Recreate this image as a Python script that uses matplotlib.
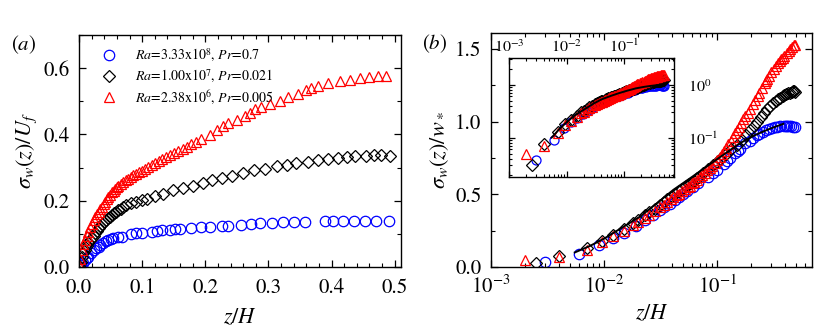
import numpy as np
import matplotlib
matplotlib.use('Agg')
import matplotlib.pyplot as plt
from matplotlib.ticker import MultipleLocator

plt.rcParams['font.family'] = ['STIXGeneral', 'DejaVu Serif']
plt.rcParams['mathtext.fontset'] = 'stix'

# ---- data ----
labels = [r'$Ra$=3.33x10$^{8}$, $Pr$=0.7',
          r'$Ra$=1.00x10$^{7}$, $Pr$=0.021',
          r'$Ra$=2.38x10$^{6}$, $Pr$=0.005']

# Ra=3.33e8, Pr=0.7 (blue circles)
z_blue = [0.000, 0.003, 0.006, 0.009, 0.012, 0.015, 0.019, 0.023, 0.027, 0.031,
          0.034, 0.038, 0.042, 0.046, 0.050, 0.054, 0.061, 0.068, 0.083, 0.091,
          0.099, 0.115, 0.123, 0.131, 0.144, 0.152, 0.160, 0.178, 0.194, 0.207,
          0.226, 0.236, 0.257, 0.272, 0.286, 0.306, 0.323, 0.340, 0.358, 0.389,
          0.403, 0.418, 0.435, 0.453, 0.471, 0.491]
sig_uf_blue = [0.000, 0.005, 0.012, 0.020, 0.026, 0.031, 0.042, 0.051, 0.056, 0.061,
               0.067, 0.073, 0.078, 0.082, 0.085, 0.087, 0.090, 0.092, 0.100, 0.102,
               0.104, 0.107, 0.109, 0.112, 0.112, 0.114, 0.115, 0.117, 0.120, 0.122,
               0.124, 0.124, 0.128, 0.130, 0.132, 0.134, 0.135, 0.136, 0.136, 0.139,
               0.138, 0.138, 0.139, 0.139, 0.138, 0.139]
sig_ws_blue = [None, 0.037, 0.090, 0.150, 0.200, 0.235, 0.280, 0.320, 0.355, 0.390,
               0.410, 0.435, 0.460, 0.480, 0.500, 0.520, 0.550, 0.575, 0.620, 0.645,
               0.670, 0.710, 0.730, 0.750, 0.785, 0.800, 0.815, 0.850, 0.870, 0.885,
               0.905, 0.915, 0.930, 0.940, 0.950, 0.955, 0.960, 0.965, 0.967, 0.968,
               0.968, 0.968, 0.968, 0.967, 0.966, 0.965]

# Ra=1.00e7, Pr=0.021 (black diamonds)
z_black = [0.000, 0.0025, 0.004, 0.007, 0.0095, 0.012, 0.015, 0.018, 0.020, 0.023,
           0.025, 0.028, 0.031, 0.034, 0.036, 0.039, 0.042, 0.046, 0.049, 0.053,
           0.056, 0.059, 0.062, 0.066, 0.069, 0.075, 0.083, 0.091, 0.099, 0.107,
           0.120, 0.133, 0.149, 0.165, 0.181, 0.197, 0.210, 0.226, 0.242, 0.260,
           0.277, 0.295, 0.313, 0.330, 0.344, 0.363, 0.379, 0.394, 0.410, 0.424,
           0.437, 0.455, 0.468, 0.479, 0.492]
sig_uf_black = [0.003, 0.015, 0.031, 0.042, 0.051, 0.062, 0.071, 0.080, 0.087, 0.095,
                0.102, 0.110, 0.117, 0.124, 0.130, 0.136, 0.142, 0.148, 0.152, 0.158,
                0.162, 0.167, 0.172, 0.176, 0.180, 0.187, 0.192, 0.197, 0.202, 0.205,
                0.213, 0.220, 0.231, 0.238, 0.245, 0.253, 0.261, 0.268, 0.275, 0.283,
                0.292, 0.297, 0.306, 0.309, 0.314, 0.318, 0.322, 0.325, 0.328, 0.332,
                0.334, 0.336, 0.337, 0.338, 0.336]
sig_ws_black = [None, 0.030, 0.076, 0.130, 0.180, 0.220, 0.260, 0.300, 0.325, 0.355,
                0.375, 0.400, 0.425, 0.450, 0.465, 0.485, 0.500, 0.520, 0.535, 0.555,
                0.570, 0.580, 0.595, 0.610, 0.620, 0.645, 0.675, 0.700, 0.720, 0.745,
                0.780, 0.810, 0.840, 0.875, 0.910, 0.945, 0.970, 1.000, 1.030, 1.060,
                1.090, 1.110, 1.130, 1.145, 1.155, 1.165, 1.175, 1.180, 1.190, 1.195,
                1.200, 1.205, 1.210, 1.210, 1.205]

# Ra=2.38e6, Pr=0.005 (red triangles)
z_red = [0.000, 0.002, 0.004, 0.007, 0.0095, 0.012, 0.015, 0.018, 0.020, 0.023,
         0.025, 0.028, 0.031, 0.034, 0.036, 0.039, 0.041, 0.044, 0.046, 0.049,
         0.052, 0.055, 0.057, 0.060, 0.062, 0.066, 0.070, 0.074, 0.078, 0.082,
         0.086, 0.090, 0.095, 0.100, 0.105, 0.110, 0.115, 0.120, 0.126, 0.132,
         0.138, 0.144, 0.150, 0.157, 0.164, 0.171, 0.178, 0.186, 0.194, 0.207,
         0.218, 0.228, 0.236, 0.250, 0.263, 0.271, 0.278, 0.289, 0.302, 0.318,
         0.331, 0.347, 0.359, 0.368, 0.379, 0.394, 0.413, 0.429, 0.445, 0.460,
         0.474, 0.487]
sig_uf_red = [0.005, 0.025, 0.050, 0.068, 0.082, 0.095, 0.107, 0.120, 0.130, 0.142,
              0.150, 0.160, 0.167, 0.176, 0.182, 0.190, 0.197, 0.204, 0.210, 0.218,
              0.225, 0.230, 0.235, 0.240, 0.244, 0.250, 0.256, 0.262, 0.267, 0.272,
              0.277, 0.281, 0.286, 0.291, 0.297, 0.302, 0.307, 0.313, 0.320, 0.326,
              0.332, 0.338, 0.344, 0.350, 0.357, 0.363, 0.370, 0.377, 0.386, 0.399,
              0.414, 0.426, 0.434, 0.444, 0.456, 0.466, 0.476, 0.484, 0.492, 0.502,
              0.513, 0.523, 0.533, 0.540, 0.545, 0.555, 0.560, 0.565, 0.570, 0.573,
              0.575, 0.577]
sig_ws_red = [None, 0.048, 0.070, 0.120, 0.170, 0.210, 0.250, 0.290, 0.310, 0.340,
              0.360, 0.385, 0.410, 0.430, 0.445, 0.465, 0.480, 0.495, 0.505, 0.520,
              0.535, 0.550, 0.560, 0.575, 0.585, 0.600, 0.620, 0.635, 0.650, 0.665,
              0.680, 0.695, 0.715, 0.735, 0.760, 0.780, 0.800, 0.820, 0.845, 0.870,
              0.895, 0.920, 0.940, 0.965, 0.990, 1.015, 1.040, 1.060, 1.085, 1.120,
              1.150, 1.175, 1.200, 1.235, 1.265, 1.280, 1.295, 1.315, 1.340, 1.365,
              1.385, 1.405, 1.420, 1.430, 1.440, 1.455, 1.470, 1.485, 1.500, 1.515,
              1.525, 1.530]

# fitted curve in panel (b)
z_fit = [0.0055, 0.0075, 0.010, 0.014, 0.0208, 0.030, 0.041, 0.060, 0.081, 0.115,
         0.160, 0.220, 0.290, 0.385]
sig_fit = [0.100, 0.145, 0.195, 0.265, 0.347, 0.445, 0.531, 0.620, 0.692, 0.775,
           0.853, 0.910, 0.950, 0.985]

series = [(z_blue, sig_uf_blue, sig_ws_blue, 'o', 'blue'),
          (z_black, sig_uf_black, sig_ws_black, 'D', 'black'),
          (z_red, sig_uf_red, sig_ws_red, '^', 'red')]
msizes = {'o': 7.5, 'D': 6.0, '^': 7.5}


def style_axes(ax, fs=15):
    ax.tick_params(which='both', direction='in', top=True, right=True, labelsize=fs)
    ax.tick_params(which='major', length=5, width=0.9)
    ax.tick_params(which='minor', length=3, width=0.8)
    for s in ax.spines.values():
        s.set_linewidth(1.0)


fig = plt.figure(figsize=(8.3, 3.34), dpi=100)
ax1 = fig.add_axes([0.0952, 0.2006, 0.3879, 0.6946])
ax2 = fig.add_axes([0.5916, 0.2006, 0.3867, 0.7006])
ins = fig.add_axes([0.6133, 0.4700, 0.1988, 0.3563])

# panel (a)
for z, a, b, m, c in series:
    ax1.plot(z, a, linestyle='none', marker=m, ms=msizes[m], mfc='none',
             mec=c, mew=0.9)
ax1.set_xlim(0, 0.51)
ax1.set_ylim(0, 0.7)
ax1.xaxis.set_major_locator(MultipleLocator(0.1))
ax1.xaxis.set_minor_locator(MultipleLocator(0.02))
ax1.yaxis.set_major_locator(MultipleLocator(0.2))
ax1.yaxis.set_minor_locator(MultipleLocator(0.1))
ax1.xaxis.set_major_formatter(matplotlib.ticker.FormatStrFormatter('%.1f'))
ax1.yaxis.set_major_formatter(matplotlib.ticker.FormatStrFormatter('%.1f'))
style_axes(ax1)
ax1.tick_params(axis='x', pad=8)
ax1.tick_params(axis='y', pad=7)
ax1.set_xlabel(r'$z/H$', fontsize=16, labelpad=7)
ax1.set_ylabel(r'$\sigma_w(z)/U_f$', fontsize=16, labelpad=3)
ax1.text(-0.21, 0.935, r'($a$)', transform=ax1.transAxes, fontsize=15)

handles = []
for (z, a, b, m, c), lab in zip(series, labels):
    h, = ax1.plot([], [], linestyle='none', marker=m, ms=msizes[m], mfc='none',
                  mec=c, mew=0.9, label=lab)
    handles.append(h)
ax1.legend(handles=handles, loc='upper left', frameon=False, fontsize=10,
           handletextpad=0.9, labelspacing=0.25, borderaxespad=0.3,
           bbox_to_anchor=(0.02, 0.99))

# panel (b)
for ax in (ax2, ins):
    for z, a, b, m, c in series:
        zz = [zi for zi, bi in zip(z, b) if bi is not None]
        bb = [bi for bi in b if bi is not None]
        ax.plot(zz, bb, linestyle='none', marker=m, ms=msizes[m] if ax is ax2 else 6.5,
                mfc='none', mec=c, mew=0.9)
    ax.plot(z_fit, sig_fit, color='black', lw=1.4, zorder=5)
    ax.set_xscale('log')

ax2.set_xlim(1e-3, 0.69)
ax2.set_ylim(0, 1.61)
ax2.yaxis.set_major_locator(MultipleLocator(0.5))
ax2.yaxis.set_minor_locator(MultipleLocator(0.25))
ax2.yaxis.set_major_formatter(matplotlib.ticker.FormatStrFormatter('%.1f'))
style_axes(ax2)
ax2.tick_params(axis='x', pad=6)
ax2.tick_params(axis='y', pad=7)
ax2.set_xlabel(r'$z/H$', fontsize=16, labelpad=4)
ax2.set_ylabel(r'$\sigma_w(z)/w_*$', fontsize=16, labelpad=3)
ax2.text(-0.215, 0.93, r'($b$)', transform=ax2.transAxes, fontsize=15)

ins.set_yscale('log')
ins.set_xlim(1e-3, 0.74)
ins.set_ylim(0.018, 3.2)
style_axes(ins, fs=11.5)
ins.tick_params(which='major', length=4)
ins.tick_params(which='minor', length=2.5)
ins.tick_params(labeltop=True, labelbottom=False, labelright=True, labelleft=False,
                pad=2)
ins.tick_params(axis='y', pad=10)

fig.savefig('out.png', dpi=100)
